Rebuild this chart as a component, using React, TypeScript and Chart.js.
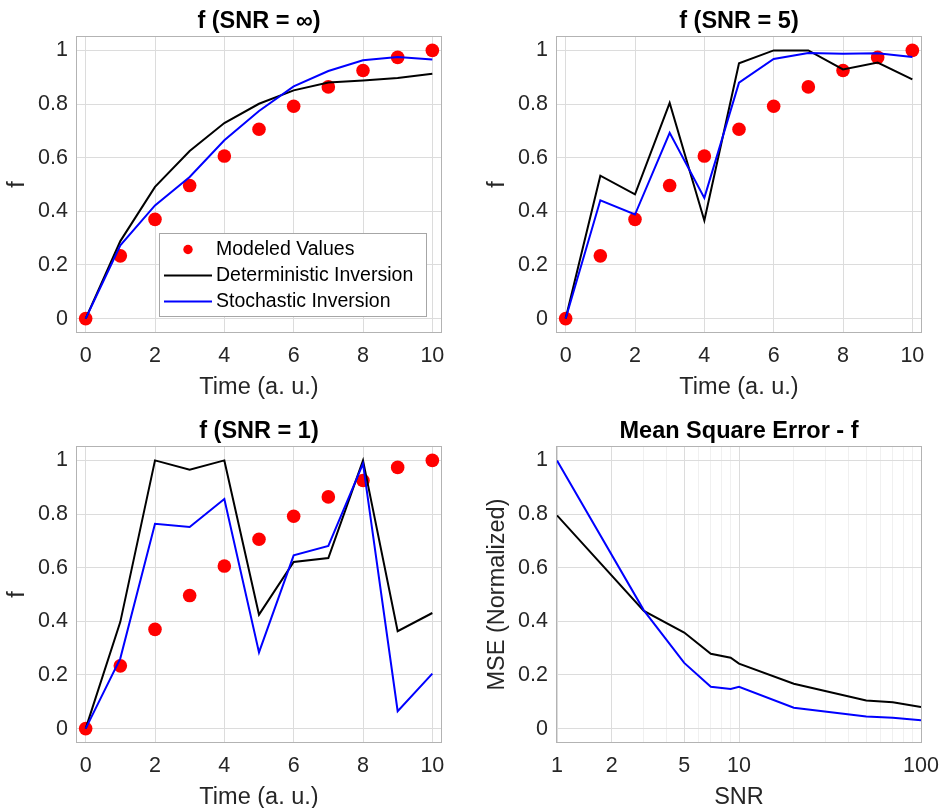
import React, { useEffect, useRef } from 'react';
import { Chart, registerables } from 'chart.js';

Chart.register(...registerables);

// ---------- data ----------
const TIME = [0, 1, 2, 3, 4, 5, 6, 7, 8, 9, 10];
const MODELED = [0, 0.234, 0.37, 0.496, 0.606, 0.706, 0.792, 0.864, 0.925, 0.974, 1.0];

const DET_INF = [0, 0.289, 0.491, 0.625, 0.729, 0.801, 0.851, 0.88, 0.888, 0.897, 0.913];
const STO_INF = [0, 0.273, 0.422, 0.528, 0.665, 0.774, 0.866, 0.923, 0.963, 0.975, 0.966];

const DET_5 = [0, 0.533, 0.463, 0.804, 0.366, 0.952, 1.0, 1.0, 0.929, 0.955, 0.892];
const STO_5 = [0, 0.441, 0.388, 0.693, 0.45, 0.88, 0.968, 0.99, 0.988, 0.989, 0.975];

const DET_1 = [0, 0.398, 1.0, 0.965, 1.0, 0.425, 0.621, 0.636, 1.0, 0.363, 0.431];
const STO_1 = [0, 0.262, 0.764, 0.752, 0.856, 0.284, 0.646, 0.681, 0.988, 0.065, 0.205];

const SNR = [1, 3, 5, 7, 9, 10, 20, 50, 70, 100];
const MSE_DET = [0.795, 0.439, 0.358, 0.279, 0.264, 0.242, 0.167, 0.105, 0.098, 0.08];
const MSE_STO = [1.0, 0.441, 0.245, 0.156, 0.148, 0.156, 0.078, 0.045, 0.04, 0.031];

const TIME_TICKS = [0, 2, 4, 6, 8, 10];
const F_TICKS = [0, 0.2, 0.4, 0.6, 0.8, 1];
const SNR_LABELED = [1, 2, 5, 10, 100];
const SNR_GRID = [1, 2, 3, 4, 5, 6, 7, 8, 9, 10, 20, 30, 40, 50, 60, 70, 80, 90, 100];

const SERIES_NAMES = ['Modeled Values', 'Deterministic Inversion', 'Stochastic Inversion'];

// ---------- style ----------
const FONT = "'Liberation Sans', Arial, Helvetica, sans-serif";
const TXT = '#262626';
const GRID = '#dcdcdc';
const GRID_MINOR = '#f0f0f0';
const BOX = '#b3b3b3';
const RED = '#ff0000';
const BLUE = '#0000ff';
const CW = 470;
const CH = 404;

const pts = (xs: number[], ys: number[]) => xs.map((x, i) => ({ x, y: ys[i] }));

// ---------- plugins ----------
const framePlugin = {
  id: 'frame',
  beforeDatasetsDraw(chart: any) {
    const { ctx, chartArea: a } = chart;
    ctx.save();
    ctx.strokeStyle = BOX;
    ctx.lineWidth = 1;
    ctx.strokeRect(a.left - 0.5, a.top - 0.5, a.right - a.left + 1, a.bottom - a.top + 1);
    ctx.restore();
  },
};

const titlePlugin = {
  id: 'panelTitle',
  afterDraw(chart: any, _args: any, opts: any) {
    if (!opts || !opts.text) return;
    const { ctx, chartArea: a } = chart;
    ctx.save();
    ctx.font = `bold 23.5px ${FONT}`;
    ctx.fillStyle = '#000';
    ctx.textAlign = 'center';
    ctx.textBaseline = 'middle';
    ctx.fillText(opts.text, (a.left + a.right) / 2, a.top - 15);
    ctx.restore();
  },
};

const legendPlugin = {
  id: 'boxLegend',
  afterDatasetsDraw(chart: any, _args: any, opts: any) {
    if (!opts || !opts.display) return;
    const { ctx, chartArea: a } = chart;
    const w = 267;
    const h = 83;
    const x0 = Math.round(a.right - 15 - w);
    const y0 = Math.round(a.bottom - 16 - h);
    ctx.save();
    ctx.fillStyle = '#ffffff';
    ctx.fillRect(x0, y0, w, h);
    ctx.strokeStyle = '#a6a6a6';
    ctx.lineWidth = 1;
    ctx.strokeRect(x0 + 0.5, y0 + 0.5, w, h);
    chart.data.datasets.forEach((ds: any, i: number) => {
      const cy = y0 + 16.5 + i * 26;
      if (ds.showLine === false) {
        ctx.fillStyle = ds.pointBackgroundColor;
        ctx.beginPath();
        ctx.arc(x0 + 29, cy, 4.7, 0, Math.PI * 2);
        ctx.fill();
      } else {
        ctx.strokeStyle = ds.borderColor;
        ctx.lineWidth = 2;
        ctx.beginPath();
        ctx.moveTo(x0 + 5, cy);
        ctx.lineTo(x0 + 53, cy);
        ctx.stroke();
      }
      ctx.fillStyle = '#000';
      ctx.font = `19.5px ${FONT}`;
      ctx.textAlign = 'left';
      ctx.textBaseline = 'middle';
      ctx.fillText(ds.label, x0 + 57, cy + 0.5);
    });
    ctx.restore();
  },
};

// ---------- scale builders ----------
const yScale = (label: string) => ({
  type: 'linear',
  min: -0.05,
  max: 1.05,
  afterBuildTicks: (s: any) => {
    s.ticks = F_TICKS.map((v) => ({ value: v }));
  },
  afterFit: (s: any) => {
    s.width = 77;
  },
  grid: { color: GRID, lineWidth: 1, drawTicks: false },
  border: { display: false },
  ticks: {
    font: { family: FONT, size: 21.5 },
    color: TXT,
    padding: 9,
    autoSkip: false,
    callback: (v: any) => String(v),
  },
  title: {
    display: true,
    text: label,
    font: { family: FONT, size: 23.5 },
    color: TXT,
    padding: { top: 3.5, bottom: 0 },
  },
});

const xTitle = (text: string) => ({
  display: true,
  text,
  font: { family: FONT, size: 23.5 },
  color: TXT,
  padding: { top: 0, bottom: 2 },
});

const xTimeScale = () => ({
  type: 'linear',
  min: -0.25,
  max: 10.25,
  afterBuildTicks: (s: any) => {
    s.ticks = TIME_TICKS.map((v) => ({ value: v }));
  },
  afterFit: (s: any) => {
    s.height = 72;
  },
  grid: { color: GRID, lineWidth: 1, drawTicks: false },
  border: { display: false },
  ticks: {
    font: { family: FONT, size: 21.5 },
    color: TXT,
    padding: 11,
    maxRotation: 0,
    autoSkip: false,
    callback: (v: any) => String(v),
  },
  title: xTitle('Time (a. u.)'),
});

const xSnrScale = () => ({
  type: 'logarithmic',
  min: 1,
  max: 100,
  afterBuildTicks: (s: any) => {
    s.ticks = SNR_GRID.map((v) => ({ value: v }));
  },
  afterFit: (s: any) => {
    s.height = 72;
  },
  grid: {
    color: (c: any) => (c.tick && SNR_LABELED.includes(c.tick.value) ? GRID : GRID_MINOR),
    lineWidth: 1,
    drawTicks: false,
  },
  border: { display: false },
  ticks: {
    font: { family: FONT, size: 21.5 },
    color: TXT,
    padding: 11,
    maxRotation: 0,
    autoSkip: false,
    callback: (v: any) => (SNR_LABELED.includes(v) ? String(v) : ''),
  },
  title: xTitle('SNR'),
});

const baseOptions = (title: string, legend: boolean, x: any, y: any) => ({
  responsive: false,
  animation: false,
  devicePixelRatio: 1,
  events: [],
  layout: { padding: { left: 0, top: 37, right: 29, bottom: 0 } },
  plugins: {
    legend: { display: false },
    tooltip: { enabled: false },
    panelTitle: { text: title },
    boxLegend: { display: legend },
  },
  scales: { x, y },
});

const lineDs = (label: string, data: any[], color: string, order: number) => ({
  label,
  data,
  borderColor: color,
  backgroundColor: color,
  borderWidth: 2,
  pointRadius: 0,
  tension: 0,
  fill: false,
  order,
});

const timeConfig = (title: string, det: number[], sto: number[], legend: boolean) => ({
  type: 'line',
  data: {
    datasets: [
      {
        label: SERIES_NAMES[0],
        data: pts(TIME, MODELED),
        showLine: false,
        pointRadius: 6.8,
        pointBackgroundColor: RED,
        pointBorderColor: RED,
        pointBorderWidth: 0,
        borderColor: RED,
        backgroundColor: RED,
        order: 3,
      },
      lineDs(SERIES_NAMES[1], pts(TIME, det), '#000000', 2),
      lineDs(SERIES_NAMES[2], pts(TIME, sto), BLUE, 1),
    ],
  },
  options: baseOptions(title, legend, xTimeScale(), yScale('f')),
  plugins: [framePlugin, titlePlugin, legendPlugin],
});

const mseConfig = () => ({
  type: 'line',
  data: {
    datasets: [
      lineDs(SERIES_NAMES[1], pts(SNR, MSE_DET), '#000000', 2),
      lineDs(SERIES_NAMES[2], pts(SNR, MSE_STO), BLUE, 1),
    ],
  },
  options: baseOptions('Mean Square Error - f', false, xSnrScale(), yScale('MSE (Normalized)')),
  plugins: [framePlugin, titlePlugin, legendPlugin],
});

// ---------- components ----------
function Panel({ make, left, top }: { make: () => any; left: number; top: number }) {
  const ref = useRef<HTMLCanvasElement>(null);
  useEffect(() => {
    if (!ref.current) return;
    const chart = new Chart(ref.current, make());
    return () => chart.destroy();
  }, []);
  return (
    <canvas
      ref={ref}
      width={CW}
      height={CH}
      style={{ position: 'absolute', left, top, width: CW, height: CH }}
    />
  );
}

export default function App() {
  return (
    <div
      style={{
        position: 'absolute',
        left: 0,
        top: 0,
        width: 941,
        height: 808,
        overflow: 'hidden',
        background: '#ffffff',
      }}
    >
      <Panel make={() => timeConfig('f (SNR = \u221e)', DET_INF, STO_INF, true)} left={0} top={0} />
      <Panel make={() => timeConfig('f (SNR = 5)', DET_5, STO_5, false)} left={480} top={0} />
      <Panel make={() => timeConfig('f (SNR = 1)', DET_1, STO_1, false)} left={0} top={410} />
      <Panel make={() => mseConfig()} left={480} top={410} />
    </div>
  );
}
